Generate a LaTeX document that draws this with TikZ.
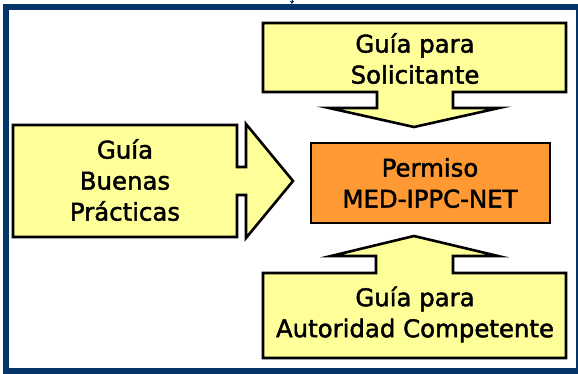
\documentclass[tikz,border=0pt]{standalone}
\usepackage{fontspec}
\setmainfont[FakeBold=1.8]{DejaVu Sans}
\usetikzlibrary{arrows.meta}
\definecolor{navy}{RGB}{5,52,104}
\definecolor{paleyellow}{RGB}{255,255,153}
\definecolor{boxorange}{RGB}{255,153,51}
\tikzset{
  shapebox/.style={draw=black, line width=2.6pt, line join=miter, fill=paleyellow},
  orangebox/.style={draw=black, line width=2.6pt, fill=boxorange},
  label/.style={align=center, inner sep=0pt, font=\fontsize{24.4}{31}\selectfont},
}
\begin{document}
\begin{tikzpicture}[x=1pt, y=-1pt]
\useasboundingbox (0,0) rectangle (578,374);
\fill[white] (0,0) rectangle (578,374);
% outer frame
\draw[navy, line width=6pt] (5.5,7) rectangle (579,371);
\coordinate (inlet) at (292,-3);
\coordinate (inend) at (292,4);
\draw[navy, line width=0.8pt, -{Triangle[width=4pt,length=3pt]}] (inlet) -- (inend);
% top arrow
\draw[shapebox] (263,23) -- (566,23) -- (566,92) -- (453,92) -- (453,108) -- (499,108)
  -- (414,127) -- (329,108) -- (377,108) -- (377,92) -- (263,92) -- cycle;
% bottom arrow
\draw[shapebox] (263,358) -- (566,358) -- (566,273) -- (453,273) -- (453,256) -- (498,256)
  -- (414,236) -- (331,256) -- (376,256) -- (376,273) -- (263,273) -- cycle;
% left arrow
\draw[shapebox] (13,125) -- (237,125) -- (237,167) -- (246,167) -- (246,124) -- (293,181)
  -- (246,238) -- (246,195) -- (237,195) -- (237,237) -- (13,237) -- cycle;
% central box
\draw[orangebox] (311,143) rectangle (550,223);
% texts
\node[label] (sol) at (415,58.5) {Guía para\\Solicitante};
\node[label] (bp) at (125,180) {Guía\\Buenas\\Prácticas};
\node[label] (perm) at (430,183) {Permiso\\MED-IPPC-NET};
\node[label] (aut) at (415,314.5) {Guía para\\Autoridad Competente};
\end{tikzpicture}
\end{document}
